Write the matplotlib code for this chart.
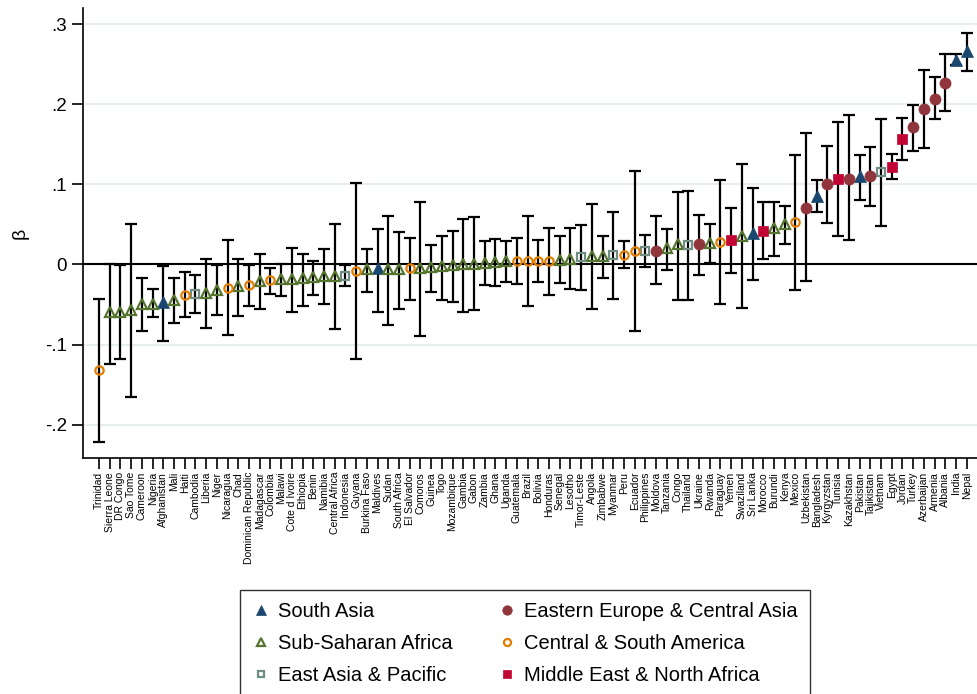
import numpy as np
import matplotlib
matplotlib.use('Agg')
import matplotlib.pyplot as plt

plt.rcParams['font.family'] = ['Liberation Sans', 'DejaVu Sans']

countries = ['Trinidad', 'Sierra Leone', 'DR Congo', 'Sao Tome', 'Cameroon', 'Nigeria',
             'Afghanistan', 'Mali', 'Haiti', 'Cambodia', 'Liberia', 'Niger', 'Nicaragua',
             'Chad', 'Dominican Republic', 'Madagascar', 'Colombia', 'Malawi', 'Cote d Ivoire',
             'Ethiopia', 'Benin', 'Namibia', 'Central Africa', 'Indonesia', 'Guyana',
             'Burkina Faso', 'Maldives', 'Sudan', 'South Africa', 'El Salvador', 'Comoros',
             'Guinea', 'Togo', 'Mozambique', 'Gambia', 'Gabon', 'Zambia', 'Ghana', 'Uganda',
             'Guatemala', 'Brazil', 'Bolivia', 'Honduras', 'Senegal', 'Lesotho', 'Timor-Leste',
             'Angola', 'Zimbabwe', 'Myanmar', 'Peru', 'Ecuador', 'Philippines', 'Moldova',
             'Tanzania', 'Congo', 'Thailand', 'Ukraine', 'Rwanda', 'Paraguay', 'Yemen',
             'Swaziland', 'Sri Lanka', 'Morocco', 'Burundi', 'Kenya', 'Mexico', 'Uzbekistan',
             'Bangladesh', 'Kyrgyzstan', 'Tunisia', 'Kazakhstan', 'Pakistan', 'Tajikistan',
             'Vietnam', 'Egypt', 'Jordan', 'Turkey', 'Azerbaijan', 'Armenia', 'Albania',
             'India', 'Nepal']

# SA south asia, SSA, EAP, EECA, CSA, MENA
region = ['CSA', 'SSA', 'SSA', 'SSA', 'SSA', 'SSA',
          'SA', 'SSA', 'CSA', 'EAP', 'SSA', 'SSA', 'CSA',
          'SSA', 'CSA', 'SSA', 'CSA', 'SSA', 'SSA',
          'SSA', 'SSA', 'SSA', 'SSA', 'EAP', 'CSA',
          'SSA', 'SA', 'SSA', 'SSA', 'CSA', 'SSA',
          'SSA', 'SSA', 'SSA', 'SSA', 'SSA', 'SSA', 'SSA', 'SSA',
          'CSA', 'CSA', 'CSA', 'CSA', 'SSA', 'SSA', 'EAP',
          'SSA', 'SSA', 'EAP', 'CSA', 'CSA', 'EAP', 'EECA',
          'SSA', 'SSA', 'EAP', 'EECA', 'SSA', 'CSA', 'MENA',
          'SSA', 'SA', 'MENA', 'SSA', 'SSA', 'CSA', 'EECA',
          'SA', 'EECA', 'MENA', 'EECA', 'SA', 'EECA',
          'EAP', 'MENA', 'MENA', 'EECA', 'EECA', 'EECA', 'EECA',
          'SA', 'SA']

beta = [-0.132, -0.060, -0.059, -0.057, -0.050, -0.049,
        -0.047, -0.045, -0.038, -0.037, -0.036, -0.032, -0.029,
        -0.027, -0.026, -0.021, -0.020, -0.018, -0.018,
        -0.017, -0.016, -0.015, -0.014, -0.014, -0.008,
        -0.006, -0.005, -0.006, -0.006, -0.005, -0.004,
        -0.003, -0.002, -0.001, 0.000, 0.001, 0.002, 0.003, 0.004,
        0.004, 0.004, 0.004, 0.004, 0.006, 0.007, 0.009,
        0.011, 0.011, 0.012, 0.012, 0.017, 0.017, 0.017,
        0.020, 0.025, 0.024, 0.025, 0.027, 0.028, 0.030,
        0.036, 0.039, 0.042, 0.045, 0.051, 0.053, 0.071,
        0.086, 0.100, 0.107, 0.107, 0.110, 0.110,
        0.115, 0.122, 0.157, 0.171, 0.194, 0.207, 0.227,
        0.255, 0.266]

ci_lo = [-0.222, -0.124, -0.118, -0.165, -0.083, -0.066,
         -0.095, -0.073, -0.066, -0.061, -0.079, -0.063, -0.088,
         -0.064, -0.052, -0.056, -0.037, -0.039, -0.059,
         -0.052, -0.038, -0.050, -0.081, -0.027, -0.118,
         -0.035, -0.059, -0.075, -0.056, -0.044, -0.089,
         -0.034, -0.044, -0.047, -0.060, -0.057, -0.026, -0.027, -0.022,
         -0.025, -0.052, -0.022, -0.038, -0.023, -0.031, -0.032,
         -0.056, -0.017, -0.043, -0.005, -0.083, -0.003, -0.025,
         -0.007, -0.044, -0.044, -0.013, 0.002, -0.050, -0.011,
         -0.054, -0.019, 0.007, 0.011, 0.025, -0.032, -0.021,
         0.065, 0.052, 0.035, 0.030, 0.080, 0.073,
         0.048, 0.106, 0.130, 0.141, 0.145, 0.181, 0.192,
         0.249, 0.242]

ci_hi = [-0.043, 0.001, -0.001, 0.050, -0.017, -0.031,
         -0.002, -0.017, -0.010, -0.013, 0.007, -0.001, 0.031,
         0.007, -0.001, 0.013, -0.004, 0.001, 0.020,
         0.013, 0.004, 0.019, 0.051, -0.001, 0.101,
         0.019, 0.044, 0.060, 0.041, 0.033, 0.078,
         0.024, 0.036, 0.042, 0.057, 0.059, 0.029, 0.032, 0.029,
         0.033, 0.060, 0.031, 0.046, 0.035, 0.045, 0.049,
         0.075, 0.036, 0.066, 0.029, 0.116, 0.037, 0.061,
         0.044, 0.090, 0.091, 0.062, 0.051, 0.105, 0.071,
         0.125, 0.095, 0.078, 0.078, 0.073, 0.136, 0.164,
         0.105, 0.148, 0.178, 0.186, 0.137, 0.147,
         0.181, 0.138, 0.183, 0.199, 0.243, 0.234, 0.262,
         0.262, 0.289]

# legend order: column-wise with ncol=2
reg_order = ['SA', 'SSA', 'EAP', 'EECA', 'CSA', 'MENA']
reg_names = {'SA': 'South Asia', 'SSA': 'Sub-Saharan Africa', 'EAP': 'East Asia & Pacific',
             'EECA': 'Eastern Europe & Central Asia', 'CSA': 'Central & South America',
             'MENA': 'Middle East & North Africa'}
# marker, colour, filled, size
reg_style = {'SA': ('^', '#1a476f', True, 9),
             'SSA': ('^', '#55752f', False, 7),
             'EAP': ('s', '#6e8e84', False, 5.5),
             'EECA': ('o', '#90353b', True, 8),
             'CSA': ('o', '#e37e00', False, 6),
             'MENA': ('s', '#c10534', True, 7.5)}

x = np.arange(len(countries))
beta = np.array(beta)
ci_lo = np.array(ci_lo)
ci_hi = np.array(ci_hi)
region = np.array(region)

fig = plt.figure(figsize=(9.78, 6.94), dpi=100)
ax = fig.add_axes([83/978, 1-458/694, 1-83/978, 450/694])

for v in [-0.2, -0.1, 0.1, 0.2, 0.3]:
    ax.axhline(v, color='#e6eef0', lw=1.5, zorder=0)
ax.axhline(0, color='black', lw=1.5, zorder=1)

ax.errorbar(x, beta, yerr=[beta-ci_lo, ci_hi-beta], fmt='none', ecolor='black',
            elinewidth=1.6, capsize=4.6, capthick=1.6, zorder=2)

handles = []
for r in reg_order:
    m, c, filled, ms = reg_style[r]
    sel = region == r
    h, = ax.plot(x[sel], beta[sel], linestyle='none', marker=m, markersize=ms,
                 markerfacecolor=c if filled else 'none', markeredgecolor=c,
                 markeredgewidth=0.5 if filled else 1.6, zorder=3, label=reg_names[r])
    handles.append(h)

ax.set_xlim(-1.5, 82.05)
ax.set_ylim(-0.2416, 0.32)
ax.set_yticks([-0.2, -0.1, 0, 0.1, 0.2, 0.3])
ax.set_yticklabels(['-.2', '-.1', '0', '.1', '.2', '.3'], fontsize=13.5)
ax.set_xticks(x)
ax.set_xticklabels(countries, rotation=90, fontsize=7.5)
ax.tick_params(axis='both', direction='out', length=8, width=1.2, color='black')
ax.tick_params(axis='x', pad=2)
ax.set_ylabel('β', fontsize=14, labelpad=12)
for s in ['top', 'right']:
    ax.spines[s].set_visible(False)
for s in ['left', 'bottom']:
    ax.spines[s].set_linewidth(1.2)

leg = fig.legend(handles=handles, ncol=2, loc='upper left',
                 bbox_to_anchor=(240/978, 1-590/694), borderaxespad=0,
                 fontsize=14.5, frameon=True, fancybox=False, edgecolor='black',
                 markerscale=0.85, handlelength=0.9, handletextpad=0.4,
                 columnspacing=2.25, labelspacing=0.65, borderpad=0.6)
leg.get_frame().set_linewidth(1.0)

fig.savefig('out.png', dpi=100, facecolor='white')
